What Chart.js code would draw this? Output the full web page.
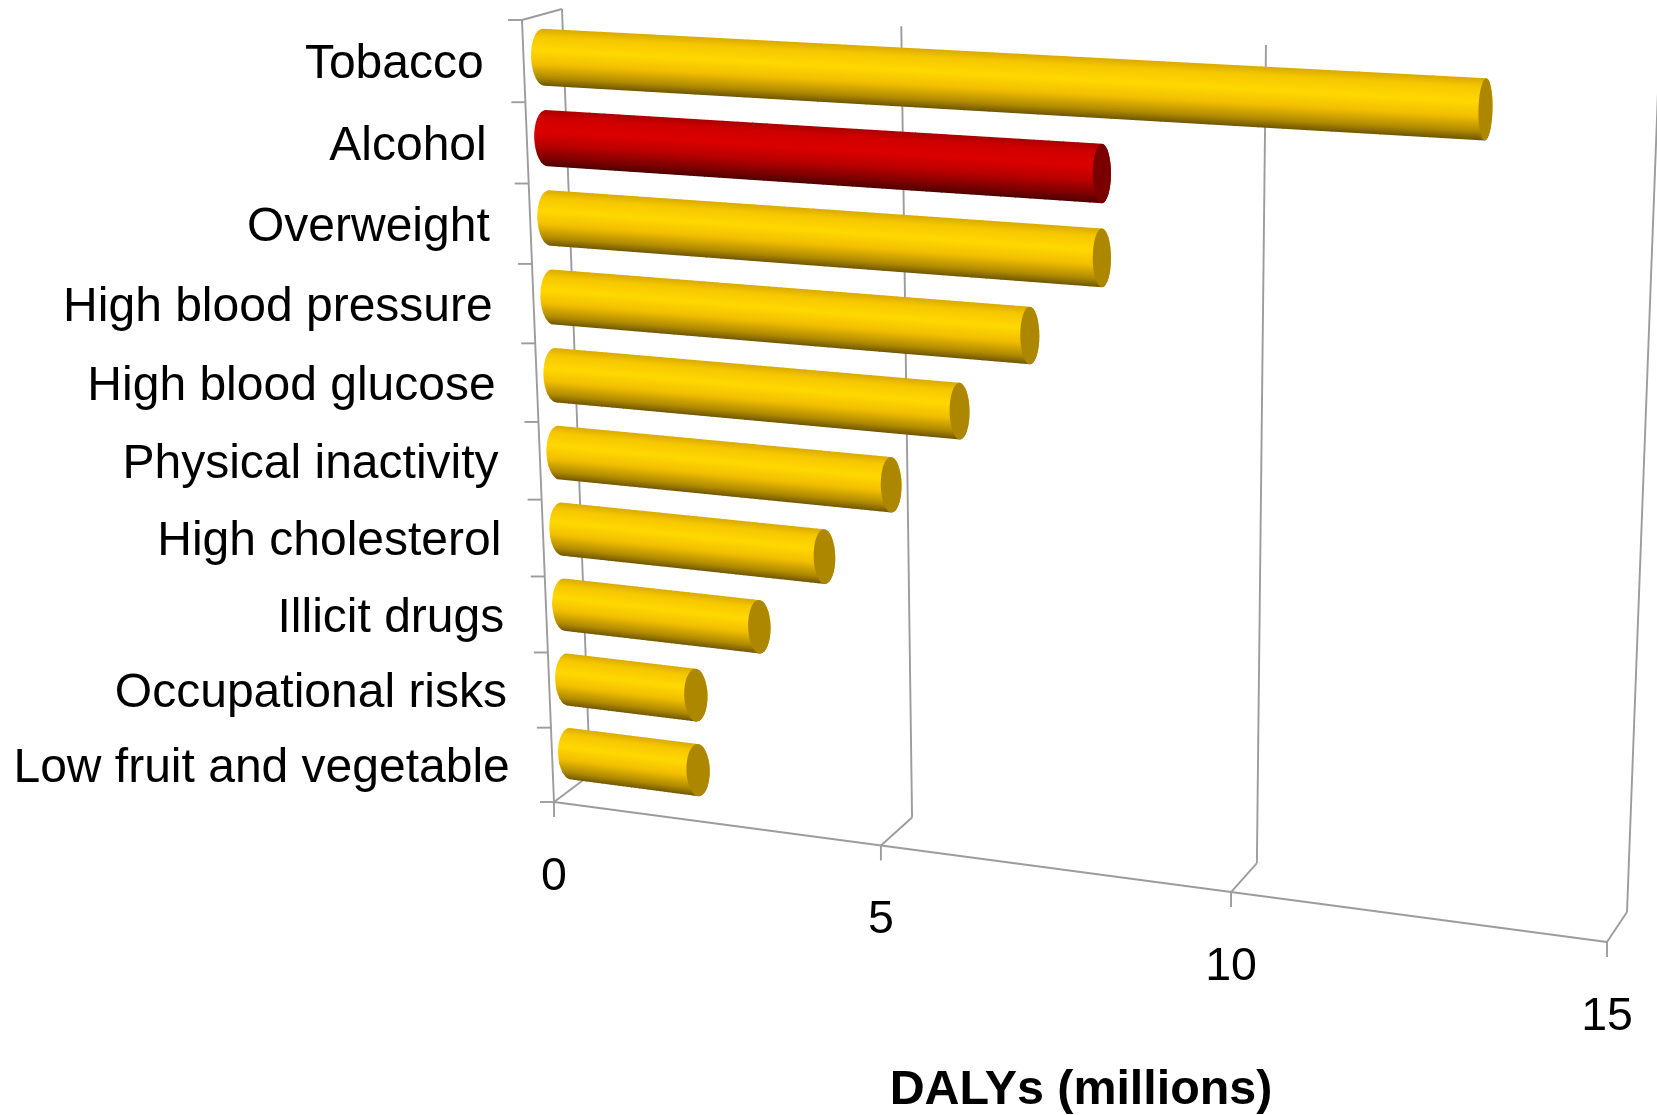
<!DOCTYPE html>
<html>
<head>
<meta charset="utf-8">
<title>DALYs by risk factor</title>
<script src="https://cdn.jsdelivr.net/npm/chart.js@4"></script>
<style>
  html, body { margin: 0; padding: 0; background: #fff; }
  #wrap { width: 1657px; height: 1115px; overflow: hidden; }
</style>
</head>
<body>
<div id="wrap"><canvas id="chart" width="1657" height="1115"></canvas></div>
<script>
// risk factors, top to bottom
const riskLabels = ["Tobacco", "Alcohol", "Overweight", "High blood pressure", "High blood glucose",
    "Physical inactivity", "High cholesterol", "Illicit drugs", "Occupational risks", "Low fruit and vegetable"];
const dalys = [13.0, 8.0, 8.0, 7.0, 6.0, 5.0, 4.0, 3.0, 2.0, 2.0];
const valueTicks = [0, 5, 10, 15];
const axisTitle = "DALYs (millions)";

// corners of the tilted box: left-top, right-top, right-bottom, left-bottom
const frontQuad = [[522, 20], [1639, 77], [1607, 942], [554, 802]];
const backQuad = [[562, 9], [1659, 65], [1627, 912], [590, 775]];

const GOLD = { body: ["#d9a900", "#f6c700", "#ffd800", "#f2bf00", "#b08a00", "#6e5500"], cap: "#ae8700" };
const RED = { body: ["#a80000", "#cf0000", "#dc0000", "#bb0000", "#7d0000", "#4d0000"], cap: "#7a0000" };
const SHADE_STOPS = [0, 0.14, 0.38, 0.62, 0.86, 1];
const LINE = "#9c9c9c";
const FONT = '"Liberation Sans", Arial, sans-serif';

// unit square -> quad perspective mapping
function squareToQuad(q) {
    const [x0, y0] = q[0], [x1, y1] = q[1], [x2, y2] = q[2], [x3, y3] = q[3];
    const dx1 = x1 - x2, dx2 = x3 - x2, dx3 = x0 - x1 + x2 - x3;
    const dy1 = y1 - y2, dy2 = y3 - y2, dy3 = y0 - y1 + y2 - y3;
    const det = dx1 * dy2 - dx2 * dy1;
    const g = (dx3 * dy2 - dx2 * dy3) / det;
    const h = (dx1 * dy3 - dx3 * dy1) / det;
    const a = x1 - x0 + g * x1, b = x3 - x0 + h * x3;
    const d = y1 - y0 + g * y1, e = y3 - y0 + h * y3;
    return (u, v) => {
        const w = g * u + h * v + 1;
        return [(a * u + b * v + x0) / w, (d * u + e * v + y0) / w];
    };
}

const projFront = squareToQuad(frontQuad);
const projBack = squareToQuad(backQuad);

// depth 0 is the front edge of the floor, depth 1 the back wall
function project(chart, px, py, depth) {
    const area = chart.chartArea;
    const u = (px - area.left) / area.width;
    const v = (py - area.top) / area.height;
    const f = projFront(u, v), b = projBack(u, v);
    return [f[0] + (b[0] - f[0]) * depth, f[1] + (b[1] - f[1]) * depth];
}

// bars stand halfway into the box, a touch below the plane's centre
function projectBar(chart, px, py) {
    const p = project(chart, px, py, 0.5);
    return [p[0], p[1] + 2];
}

function strokeLine(ctx, a, b) {
    ctx.beginPath();
    ctx.moveTo(a[0], a[1]);
    ctx.lineTo(b[0], b[1]);
    ctx.stroke();
}

function drawBox(chart) {
    const ctx = chart.ctx, x = chart.scales.x, area = chart.chartArea;
    ctx.save();
    ctx.strokeStyle = LINE;
    ctx.lineWidth = 1.9;

    // back wall lines and the floor diagonals
    valueTicks.forEach(t => {
        const px = x.getPixelForValue(t);
        const top = project(chart, px, area.top, 1);
        const foot = project(chart, px, area.bottom, 1);
        const front = project(chart, px, area.bottom, 0);
        strokeLine(ctx, top, foot);
        strokeLine(ctx, foot, front);
        strokeLine(ctx, front, [front[0], front[1] + 15]);
    });

    const x0 = x.getPixelForValue(0), x15 = x.getPixelForValue(15);
    const axisTop = project(chart, x0, area.top, 0);
    const axisFoot = project(chart, x0, area.bottom, 0);
    strokeLine(ctx, axisTop, axisFoot);
    strokeLine(ctx, axisTop, project(chart, x0, area.top, 1));
    strokeLine(ctx, axisFoot, project(chart, x15, area.bottom, 0));

    // category tick marks sit on the band edges
    for (let i = 0; i <= riskLabels.length; i++) {
        const py = area.top + area.height * i / riskLabels.length;
        const p = project(chart, x0, py, 0);
        strokeLine(ctx, p, [p[0] - 14, p[1]]);
    }
    ctx.restore();
}

function drawCylinder(chart, bar, style) {
    const ctx = chart.ctx;
    const topY = bar.y - bar.height / 2, botY = bar.y + bar.height / 2;
    const a = projectBar(chart, bar.base, topY);
    const b = projectBar(chart, bar.x, topY);
    const c = projectBar(chart, bar.x, botY);
    const d = projectBar(chart, bar.base, botY);

    // the end caps look narrower further along the value axis
    const value = chart.scales.x.getValueForPixel(bar.x);
    const endR = 12.5 - 0.42 * value;
    const startR = 12.5;
    const endRot = Math.atan2(c[1] - b[1], c[0] - b[0]) - Math.PI / 2;
    const startRot = Math.atan2(d[1] - a[1], d[0] - a[0]) - Math.PI / 2;
    const endMid = [(b[0] + c[0]) / 2, (b[1] + c[1]) / 2];
    const startMid = [(a[0] + d[0]) / 2, (a[1] + d[1]) / 2];
    const endH = Math.hypot(c[0] - b[0], c[1] - b[1]) / 2;
    const startH = Math.hypot(d[0] - a[0], d[1] - a[1]) / 2;

    ctx.save();
    ctx.beginPath();
    ctx.moveTo(a[0], a[1]);
    ctx.lineTo(b[0], b[1]);
    ctx.ellipse(endMid[0], endMid[1], endR, endH, endRot, -Math.PI / 2, Math.PI / 2);
    ctx.lineTo(d[0], d[1]);
    ctx.ellipse(startMid[0], startMid[1], startR, startH, startRot, Math.PI / 2, Math.PI * 1.5);
    ctx.closePath();
    ctx.clip();

    // shading runs across the cylinder, in thin strips so it follows the taper
    const shade = ctx.createLinearGradient(0, -startH, 0, startH);
    SHADE_STOPS.forEach((s, i) => shade.addColorStop(s, style.body[i]));
    ctx.translate(startMid[0], startMid[1]);
    ctx.rotate(Math.atan2(endMid[1] - startMid[1], endMid[0] - startMid[0]));
    const len = Math.hypot(endMid[0] - startMid[0], endMid[1] - startMid[1]);
    const from = -startR * 1.5, span = len + startR * 3, steps = 40;
    for (let i = 0; i < steps; i++) {
        const t0 = from + span * i / steps;
        const hh = startH + (endH - startH) * Math.max(0, t0 + span / steps / 2) / len;
        ctx.save();
        ctx.translate(t0, 0);
        ctx.scale(1, hh / startH);
        ctx.fillStyle = shade;
        ctx.fillRect(0, -startH - 2, span / steps + 1, startH * 2 + 4);
        ctx.restore();
    }
    ctx.restore();

    ctx.fillStyle = style.cap;
    ctx.beginPath();
    ctx.ellipse(endMid[0], endMid[1], endR, endH, endRot, 0, Math.PI * 2);
    ctx.fill();
}

function drawLabels(chart) {
    const ctx = chart.ctx, x = chart.scales.x, y = chart.scales.y, area = chart.chartArea;
    ctx.save();
    ctx.fillStyle = "#000";
    ctx.font = "48px " + FONT;
    ctx.textAlign = "right";
    ctx.textBaseline = "middle";
    riskLabels.forEach((label, i) => {
        const p = project(chart, x.getPixelForValue(0), y.getPixelForValue(i), 0);
        ctx.fillText(label, p[0] - 40 - i * 0.3, p[1] + 4);
    });

    ctx.font = "46.5px " + FONT;
    ctx.textAlign = "center";
    valueTicks.forEach(t => {
        const p = project(chart, x.getPixelForValue(t), area.bottom, 0);
        ctx.fillText(String(t), p[0], p[1] + 75);
    });

    ctx.font = "bold 48.4px " + FONT;
    ctx.fillText(axisTitle, 1081, 1091);
    ctx.restore();
}

// the stock flat drawing is replaced by the tilted box and cylinders
const tiltedBars = {
    id: "tiltedBars",
    beforeDatasetsDraw(chart) {
        const bars = chart.getDatasetMeta(0).data;
        drawBox(chart);
        bars.forEach((bar, i) => drawCylinder(chart, bar, riskLabels[i] === "Alcohol" ? RED : GOLD));
        drawLabels(chart);
        return false;
    }
};

new Chart(document.getElementById("chart"), {
    type: "bar",
    data: {
        labels: riskLabels,
        datasets: [{
            label: axisTitle,
            data: dalys,
            backgroundColor: riskLabels.map(l => l === "Alcohol" ? "#d40000" : "#ffd000"),
            barPercentage: 0.7,
            categoryPercentage: 1
        }]
    },
    options: {
        indexAxis: "y",
        responsive: false,
        animation: false,
        layout: { padding: 40 },
        plugins: { legend: { display: false }, tooltip: { enabled: false } },
        scales: {
            x: {
                min: 0, max: 15,
                ticks: { display: false, stepSize: 5 },
                grid: { display: false },
                border: { display: false }
            },
            y: {
                ticks: { display: false },
                grid: { display: false },
                border: { display: false }
            }
        }
    },
    plugins: [tiltedBars]
});
</script>
</body>
</html>
